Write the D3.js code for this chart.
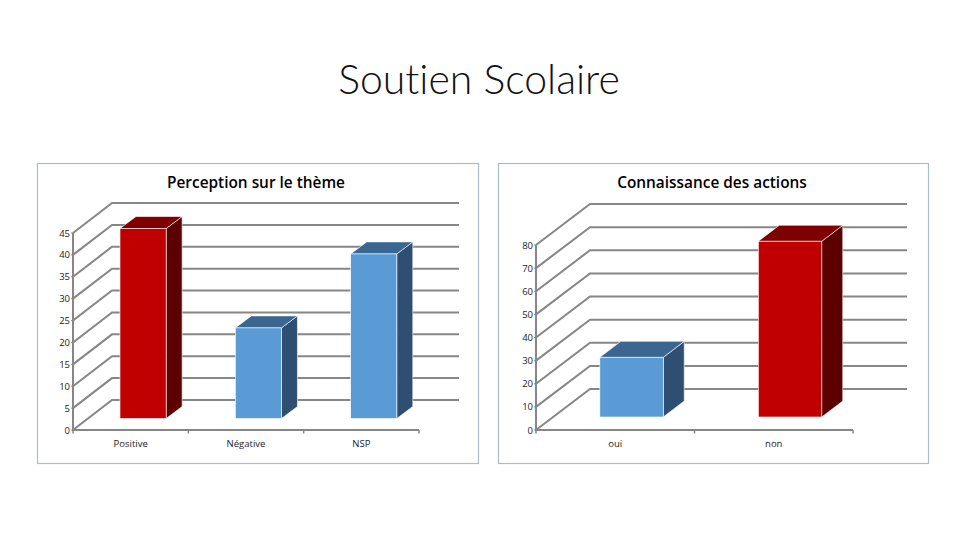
<!DOCTYPE html>
<html>
<head>
<meta charset="utf-8">
<script src="https://cdn.jsdelivr.net/npm/d3@7"></script>
<style>
  html, body { margin: 0; padding: 0; background: #fff; }
  svg { display: block; }
  text { font-family: "Open Sans", sans-serif; font-variant-ligatures: none; }
</style>
</head>
<body>
<svg id="chart" width="960" height="540"></svg>
<script>
const mainTitle = "Soutien Scolaire";

const perceptionTitle = "Perception sur le thème";
const perceptionLabels = ["Positive", "Négative", "NSP"];
const perceptionValues = [43.4, 20.7, 37.6];
const perceptionColors = ["red", "blue", "blue"];
const perceptionTicks = [0, 5, 10, 15, 20, 25, 30, 35, 40, 45];

const actionsTitle = "Connaissance des actions";
const actionsLabels = ["oui", "non"];
const actionsValues = [25.8, 76];
const actionsColors = ["blue", "red"];
const actionsTicks = [0, 10, 20, 30, 40, 50, 60, 70, 80];

const shades = {
    red: { front: "#c00000", top: "#7f0000", side: "#5c0000" },
    blue: { front: "#5b9bd5", top: "#3a6690", side: "#2f4f72" }
};

const svg = d3.select("#chart");

svg.append("text")
    .attr("x", 479)
    .attr("y", 94)
    .attr("text-anchor", "middle")
    .attr("fill", "#111")
    .style("font-family", "Lato")
    .style("font-weight", 300)
    .style("font-size", "41px")
    .text(mainTitle);

function drawChart(cfg) {
    const g = svg.append("g");

    g.append("rect")
        .attr("x", cfg.box[0] + 0.5)
        .attr("y", 163.5)
        .attr("width", cfg.box[1] - cfg.box[0])
        .attr("height", 300)
        .attr("fill", "#fff")
        .attr("stroke", "#a9bccb")
        .attr("stroke-width", 1.2);

    g.append("text")
        .attr("x", cfg.titleX)
        .attr("y", 187.5)
        .attr("text-anchor", "middle")
        .attr("fill", "#000")
        .style("font-weight", 600)
        .style("font-size", "15.4px")
        .text(cfg.title);

    const y = d3.scaleLinear().domain(cfg.yDomain).range([430, cfg.yTop]);
    const x = d3.scaleBand().domain(cfg.labels).range([cfg.x0, cfg.x1])
        .paddingInner(0.6).paddingOuter(0.3);
    const bandStep = x.step();

    // gridlines: diagonal on the side wall, then flat on the back wall
    g.selectAll("path.grid")
        .data(cfg.ticks)
        .join("path")
        .attr("class", "grid")
        .attr("fill", "none")
        .attr("stroke", "#868686")
        .attr("stroke-width", 2)
        .attr("d", d => `M${cfg.x0},${y(d)}L${cfg.x0 + cfg.depth[0]},${y(d) - cfg.depth[1]}H${cfg.gridEnd}`);

    // front axis lines
    g.append("path")
        .attr("fill", "none")
        .attr("stroke", "#868686")
        .attr("stroke-width", 2)
        .attr("d", `M${cfg.x0},${y(cfg.yDomain[1])}V430H${cfg.x1}`);

    // y ticks and labels
    g.selectAll("line.ytick")
        .data(cfg.ticks)
        .join("line")
        .attr("class", "ytick")
        .attr("x1", cfg.x0 - 2)
        .attr("x2", cfg.x0)
        .attr("y1", d => y(d))
        .attr("y2", d => y(d))
        .attr("stroke", "#868686");

    g.selectAll("text.ylab")
        .data(cfg.ticks)
        .join("text")
        .attr("class", "ylab")
        .attr("x", cfg.x0 - 3)
        .attr("y", d => y(d) + 3.5)
        .attr("text-anchor", "end")
        .attr("fill", "#222")
        .style("font-size", "9.5px")
        .text(d => d);

    // x ticks between categories
    g.selectAll("line.xtick")
        .data(d3.range(cfg.labels.length + 1))
        .join("line")
        .attr("class", "xtick")
        .attr("x1", i => cfg.x0 + i * bandStep)
        .attr("x2", i => cfg.x0 + i * bandStep)
        .attr("y1", 430)
        .attr("y2", 433.5)
        .attr("stroke", "#868686")
        .attr("stroke-width", 1.5);

    g.selectAll("text.xlab")
        .data(cfg.labels)
        .join("text")
        .attr("class", "xlab")
        .attr("x", d => x(d) + x.bandwidth() / 2)
        .attr("y", 446.5)
        .attr("text-anchor", "middle")
        .attr("fill", "#222")
        .style("font-size", "9.5px")
        .text(d => d);

    // bars sit partway into the depth of the floor
    const bars = g.selectAll("g.bar")
        .data(cfg.labels.map((label, i) => ({ label, value: cfg.values[i], color: shades[cfg.colors[i]] })))
        .join("g")
        .attr("class", "bar")
        .attr("transform", d => `translate(${x(d.label) + cfg.barShift[0]},${-cfg.barShift[1]})`);

    const w = x.bandwidth();
    const [dx, dy] = cfg.barDepth;

    bars.append("path")
        .attr("fill", d => d.color.side)
        .attr("stroke", "#fff")
        .attr("stroke-width", 0.6)
        .attr("d", d => `M${w},${y(d.value)}l${dx},${-dy}V${y(0) - dy}l${-dx},${dy}Z`);

    bars.append("path")
        .attr("fill", d => d.color.top)
        .attr("stroke", "#fff")
        .attr("stroke-width", 0.6)
        .attr("d", d => `M0,${y(d.value)}l${dx},${-dy}h${w}l${-dx},${dy}Z`);

    bars.append("rect")
        .attr("x", 0)
        .attr("y", d => y(d.value))
        .attr("width", w)
        .attr("height", d => y(0) - y(d.value))
        .attr("fill", d => d.color.front)
        .attr("stroke", "#fff")
        .attr("stroke-width", 0.6);
}

drawChart({
    box: [37, 478], titleX: 256, title: perceptionTitle,
    labels: perceptionLabels, values: perceptionValues, colors: perceptionColors, ticks: perceptionTicks,
    yDomain: [0, 45], yTop: 233,
    x0: 73, x1: 419, gridEnd: 459,
    depth: [39, 30], barDepth: [16, 12], barShift: [12.4, 11.5]
});

drawChart({
    box: [498, 928], titleX: 712, title: actionsTitle,
    labels: actionsLabels, values: actionsValues, colors: actionsColors, ticks: actionsTicks,
    yDomain: [0, 80], yTop: 245,
    x0: 536, x1: 853, gridEnd: 907,
    depth: [54, 41], barDepth: [21, 16], barShift: [16.3, 13]
});
</script>
</body>
</html>
